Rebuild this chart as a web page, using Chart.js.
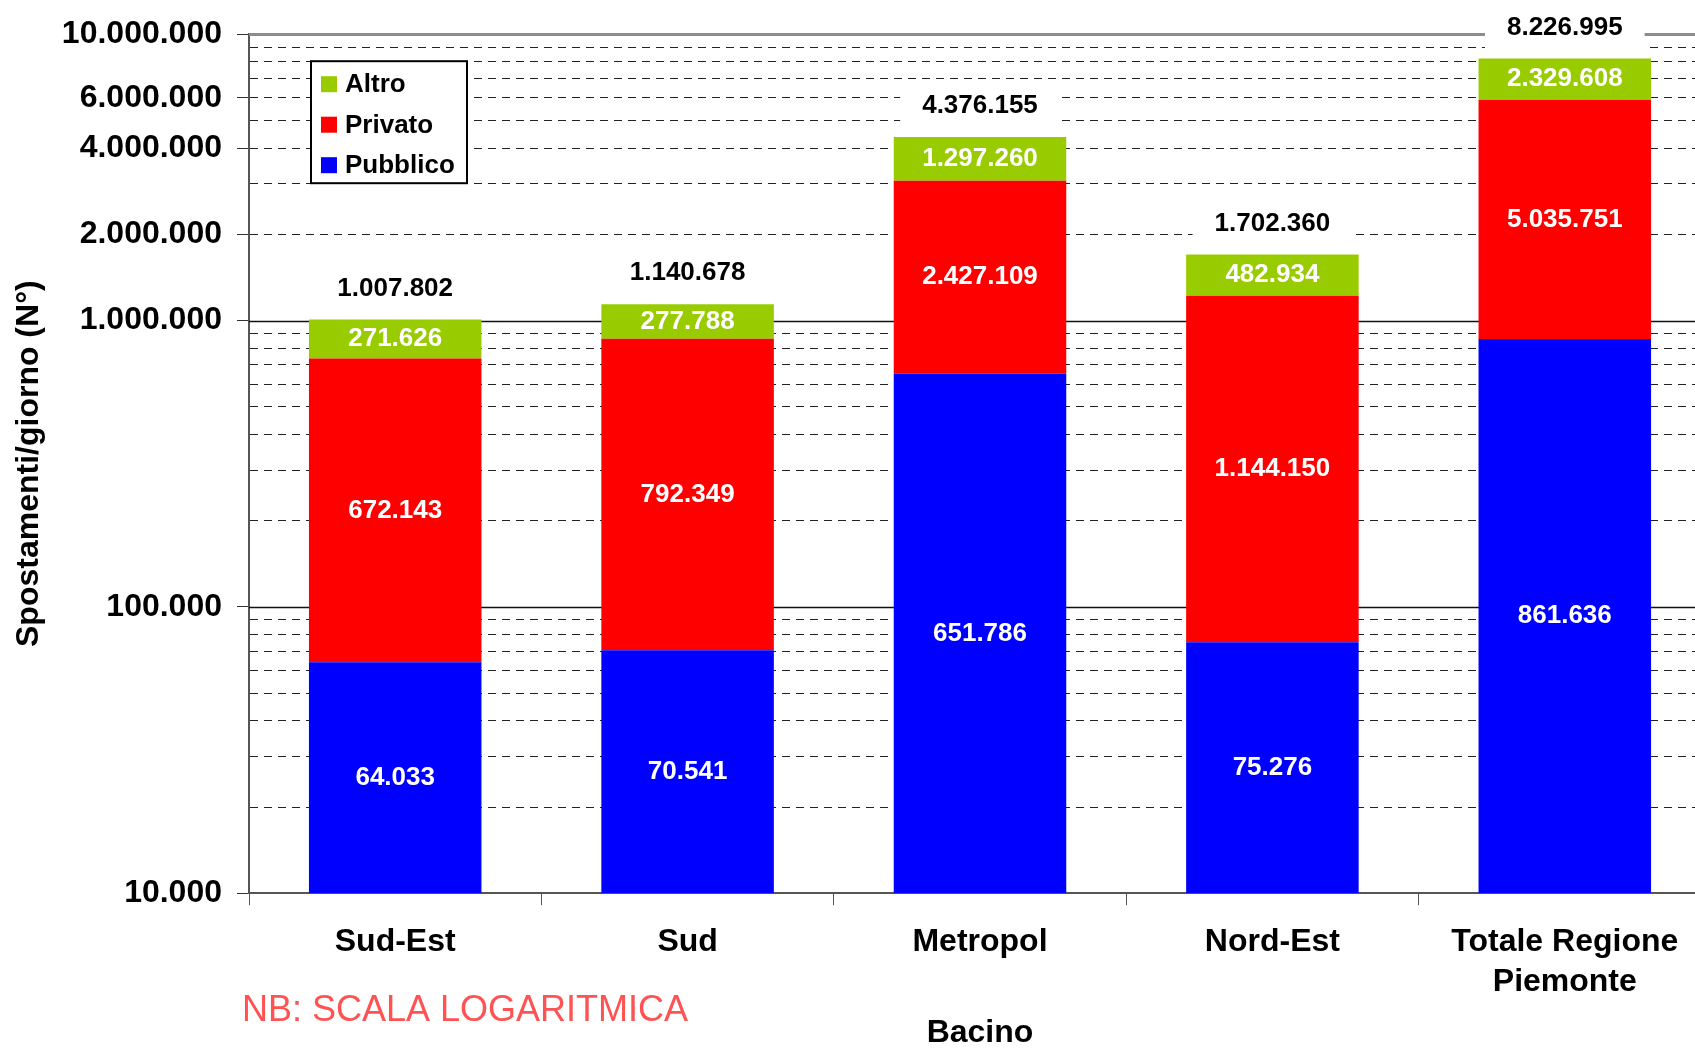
<!DOCTYPE html>
<html>
<head>
<meta charset="utf-8">
<script src="https://cdn.jsdelivr.net/npm/chart.js@4/dist/chart.umd.min.js"></script>
<style>
  html, body { margin: 0; padding: 0; background: #fff; overflow: hidden; }
  #wrap { width: 1695px; height: 1048px; overflow: hidden; }
</style>
</head>
<body>
<div id="wrap"><canvas id="chart" width="1711" height="1048"></canvas></div>
<script>
const categories = [['Sud-Est'], ['Sud'], ['Metropol'], ['Nord-Est'], ['Totale Regione', 'Piemonte']];
const pubblico = [64033, 70541, 651786, 75276, 861636];
const privato = [672143, 792349, 2427109, 1144150, 5035751];
const altro = [271626, 277788, 1297260, 482934, 2329608];
const yLabelValues = [10000, 100000, 1000000, 2000000, 4000000, 6000000, 10000000];
const yMin = 10000;
const yMax = 10000000;

// 1..9 per decade, for the dashed grid
const gridValues = [];
for (let d = yMin; d < yMax; d *= 10) {
    for (let k = 1; k <= 9; k++) gridValues.push(k * d);
}
gridValues.push(yMax);

const isDecade = v => Math.abs(Math.log10(v) - Math.round(Math.log10(v))) < 1e-9;
const fmt = n => String(Math.round(n)).replace(/\B(?=(\d{3})+(?!\d))/g, '.');
const FONT = "'Liberation Sans', Arial, sans-serif";
Chart.defaults.font.family = FONT;
Chart.defaults.color = '#000';

const solidGrid = {
    id: 'solidGrid',
    beforeDatasetsDraw(chart) {
        const y = chart.scales.y, a = chart.chartArea, ctx = chart.ctx;
        ctx.save();
        gridValues.filter(v => isDecade(v) && v > yMin).forEach(v => {
            const py = Math.round(y.getPixelForValue(v)) + 0.5;
            ctx.beginPath();
            if (v === yMax) { ctx.strokeStyle = '#8c8c8c'; ctx.lineWidth = 3; }
            else { ctx.strokeStyle = '#111'; ctx.lineWidth = 1.5; }
            ctx.moveTo(a.left, py);
            ctx.lineTo(a.right, py);
            ctx.stroke();
        });
        ctx.restore();
    }
};

const barLabels = {
    id: 'barLabels',
    afterDatasetsDraw(chart) {
        const ctx = chart.ctx;
        ctx.save();
        ctx.textAlign = 'center';
        ctx.textBaseline = 'middle';
        ctx.font = 'bold 26px ' + FONT;
        ctx.fillStyle = '#fff';
        chart.data.datasets.forEach((ds, i) => {
            chart.getDatasetMeta(i).data.forEach((bar, j) => {
                ctx.fillText(fmt(ds.data[j]), bar.x, (bar.y + bar.base) / 2);
            });
        });
        const last = chart.getDatasetMeta(chart.data.datasets.length - 1).data;
        last.forEach((bar, j) => {
            const total = chart.data.datasets.reduce((s, ds) => s + ds.data[j], 0);
            const txt = fmt(total);
            const w = ctx.measureText(txt).width + 44;
            const cy = bar.y - 31;
            ctx.fillStyle = '#fff';
            ctx.fillRect(bar.x - w / 2, cy - 25, w, 50);
            ctx.fillStyle = '#000';
            ctx.fillText(txt, bar.x, cy);
        });
        ctx.restore();
    }
};

const boxLegend = {
    id: 'boxLegend',
    afterDraw(chart) {
        const ctx = chart.ctx, a = chart.chartArea;
        const x0 = a.left + 62, y0 = a.top + 27, w = 156, h = 122;
        ctx.save();
        ctx.fillStyle = '#fff';
        ctx.fillRect(x0, y0, w, h);
        ctx.strokeStyle = '#000';
        ctx.lineWidth = 2;
        ctx.strokeRect(x0, y0, w, h);
        ctx.font = 'bold 26px ' + FONT;
        ctx.textBaseline = 'middle';
        ctx.textAlign = 'left';
        const items = chart.data.datasets.slice().reverse();
        items.forEach((ds, i) => {
            const cy = y0 + 23 + i * 40.5;
            ctx.fillStyle = ds.backgroundColor;
            ctx.fillRect(x0 + 10, cy - 8, 16, 16);
            ctx.fillStyle = '#000';
            ctx.fillText(ds.label, x0 + 34, cy + 1);
        });
        ctx.restore();
    }
};

const note = {
    id: 'note',
    afterDraw(chart) {
        const ctx = chart.ctx;
        ctx.save();
        ctx.font = '36px ' + FONT;
        ctx.fillStyle = '#ff5353';
        ctx.textAlign = 'left';
        ctx.textBaseline = 'middle';
        ctx.fillText('NB: SCALA LOGARITMICA', 242, 1011);
        ctx.restore();
    }
};

new Chart(document.getElementById('chart').getContext('2d'), {
    type: 'bar',
    data: {
        labels: categories,
        datasets: [
            { label: 'Pubblico', data: pubblico, backgroundColor: '#0000ff' },
            { label: 'Privato', data: privato, backgroundColor: '#ff0000' },
            { label: 'Altro', data: altro, backgroundColor: '#99cc00' }
        ]
    },
    options: {
        responsive: false,
        animation: false,
        devicePixelRatio: 1,
        datasets: { bar: { barPercentage: 0.59, categoryPercentage: 1.0, borderWidth: 0 } },
        layout: { padding: { left: 10, top: 13, right: 0, bottom: 0 } },
        plugins: { legend: { display: false }, tooltip: { enabled: false } },
        scales: {
            x: {
                stacked: true,
                grid: { drawOnChartArea: false, offset: true, tickLength: 12, color: '#555', lineWidth: 1 },
                border: { color: '#555', width: 2 },
                ticks: { font: { size: 32, weight: 'bold', lineHeight: 1.25 }, padding: 17, maxRotation: 0, autoSkip: false, color: '#000' },
                title: { display: true, text: 'Bacino', font: { size: 32, weight: 'bold', lineHeight: 0.9 }, padding: { top: 0, bottom: 0 }, color: '#000' }
            },
            y: {
                type: 'logarithmic',
                stacked: true,
                min: yMin,
                max: yMax,
                afterBuildTicks(s) { s.ticks = gridValues.map(v => ({ value: v })); },
                afterFit(s) { s.width = 239; },
                grid: {
                    color: c => (c.tick && isDecade(c.tick.value)) ? 'rgba(0,0,0,0)' : '#222',
                    lineWidth: 1,
                    tickLength: 12,
                    tickColor: c => (c.tick && yLabelValues.includes(c.tick.value)) ? '#333' : 'rgba(0,0,0,0)'
                },
                border: { color: '#555', width: 2, dash: [8, 6] },
                ticks: {
                    autoSkip: false,
                    padding: 15,
                    color: '#000',
                    font: { size: 32, weight: 'bold' },
                    callback: v => yLabelValues.includes(v) ? fmt(v) : ''
                },
                title: { display: true, text: 'Spostamenti/giorno (N°)', font: { size: 32, weight: 'bold', lineHeight: 1.2 }, padding: { top: 0, bottom: 0 }, color: '#000' }
            }
        }
    },
    plugins: [solidGrid, barLabels, boxLegend, note]
});
</script>
</body>
</html>
